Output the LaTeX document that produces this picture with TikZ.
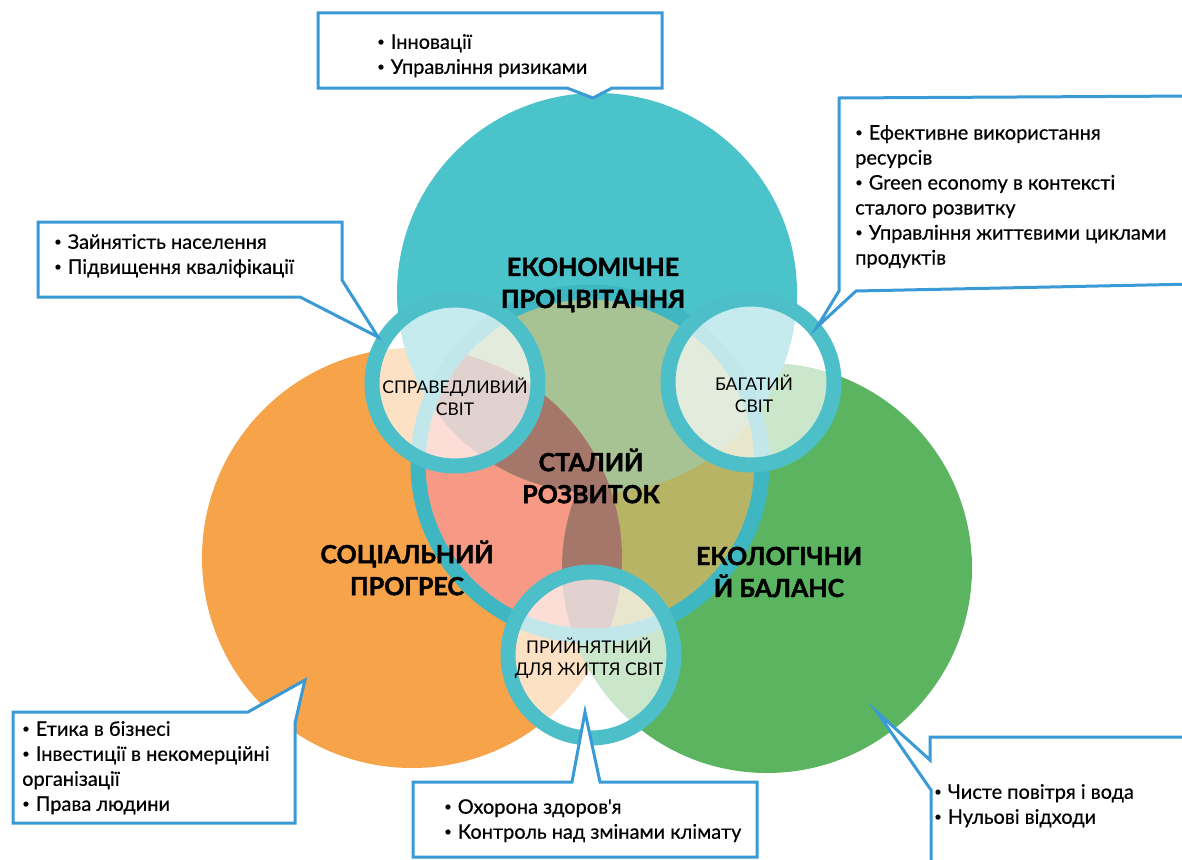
\documentclass[tikz,border=0pt]{standalone}
\usepackage{fontspec}
\setmainfont{Lato}
\newfontfamily\heavyfont[BoldFeatures={FakeBold=1.6}]{Lato}
\newfontfamily\notefont[FakeBold=0.5]{Lato}
\newcommand\bul{\raisebox{0.14em}{\fontsize{13}{13}\selectfont•}\hspace{0.3em}}
\definecolor{ekon}{HTML}{4BC3CB}
\definecolor{soc}{HTML}{F7A34A}
\definecolor{eko}{HTML}{5BB560}
\definecolor{ringcol}{HTML}{3FB7C2}
\definecolor{halocol}{HTML}{4DBFC9}
\definecolor{mixekon}{HTML}{A8C393}
\definecolor{mixsoc}{HTML}{F69A85}
\definecolor{mixeko}{HTML}{B8B466}
\definecolor{mixall}{HTML}{A5766A}
\definecolor{callout}{HTML}{3A9AD6}
\begin{document}
\begin{tikzpicture}[x=1pt,y=-1pt,
  title/.style={font=\heavyfont\fontsize{25}{32}\selectfont\bfseries,align=center,inner sep=0pt},
  world/.style={font=\fontsize{17.5}{22}\selectfont,align=center,inner sep=0pt},
  bubble/.style={draw=callout,line width=3pt,fill=white,line join=miter},
  list/.style={font=\notefont\fontsize{20}{25}\selectfont,align=left,anchor=north west,inner sep=0pt},
  halo/.style={draw=halocol,line width=15pt,fill=white,fill opacity=0.68}]
\useasboundingbox (0,0) rectangle (1182,859);
\fill[white] (0,0) rectangle (1182,859);
\clip (0,0) rectangle (1182,859);

\coordinate (e) at (597,293);
\coordinate (s) at (412,558);
\coordinate (g) at (767,568);
\coordinate (c) at (590,464);
\coordinate (just) at (455,383);
\coordinate (rich) at (751,382);
\coordinate (live) at (591,655);

\fill[soc] (s) circle [radius=210];
\fill[eko] (g) circle [radius=205];
\fill[ekon] (e) circle [radius=200];
\begin{scope}
  \clip (c) circle [radius=172];
  \fill[mixeko] (g) circle [radius=205];
  \fill[mixsoc] (s) circle [radius=210];
  \fill[mixekon] (e) circle [radius=200];
  \clip (s) circle [radius=210];
  \fill[mixall] (e) circle [radius=200];
  \fill[mixall] (g) circle [radius=205];
\end{scope}
\draw[ringcol,line width=15pt] (c) circle [radius=172];
\foreach \n in {just,rich,live}
  \draw[halo] (\n) circle [radius=83];

\draw[bubble] (318,13) -- (662,13) -- (662,88) -- (612,88) -- (593,98) -- (567,88) -- (318,88) -- cycle;
\draw[bubble] (839,98) -- (1195,96) -- (1195,284) -- (856,291) -- (817,327) -- (839,291) -- cycle;
\draw[bubble] (38,222) -- (342,222) -- (342,280) -- (378,337) -- (300,297) -- (38,297) -- cycle;
\draw[bubble] (13,712) -- (248,712) -- (305,680) -- (295,723) -- (295,823) -- (13,823) -- cycle;
\draw[bubble] (413,782) -- (572,782) -- (585,712) -- (600,782) -- (757,782) -- (757,857) -- (413,857) -- cycle;
\draw[bubble] (930,737) -- (1195,737) -- (1195,870) -- (931,870) -- (931,790) -- (877,712) -- (930,760) -- cycle;

\node[list] (topnotes) at (377,34) {\bul Інновації\\\bul Управління ризиками};
\node[list] (richnotes) at (855,125) {\bul Ефективне використання\\ресурсів\\\bul Green economy в контексті\\сталого розвитку\\\bul Управління життєвими циклами\\продуктів};
\node[list] (justnotes) at (54,234) {\bul Зайнятість населення\\\bul Підвищення кваліфікації};
\node[list] (socnotes) at (22,721) {\bul Етика в бізнесі\\\bul Інвестиції в некомерційні\\організації\\\bul Права людини};
\node[list] (livenotes) at (444,799) {\bul Охорона здоров'я\\\bul Контроль над змінами клімату};
\node[list] (ekonotes) at (934,784) {\bul Чисте повітря і вода\\\bul Нульові відходи};

\node[title] (ekontitle) at (593,285) {ЕКОНОМІЧНЕ\\ПРОЦВІТАННЯ};
\node[title] (sdtitle) at (591,476) {СТАЛИЙ\\РОЗВИТОК};
\node[title] (soctitle) at (407,568) {СОЦІАЛЬНИЙ\\ПРОГРЕС};
\node[title] (ekotitle) at (779,572) {ЕКОЛОГІЧНИ\\Й БАЛАНС};

\node[world] (justtext) at (455,397) {СПРАВЕДЛИВИЙ\\СВІТ};
\node[world] (richtext) at (754,394) {БАГАТИЙ\\СВІТ};
\node[world] (livetext) at (589,658) {ПРИЙНЯТНИЙ\\ДЛЯ ЖИТТЯ СВІТ};
\end{tikzpicture}
\end{document}
